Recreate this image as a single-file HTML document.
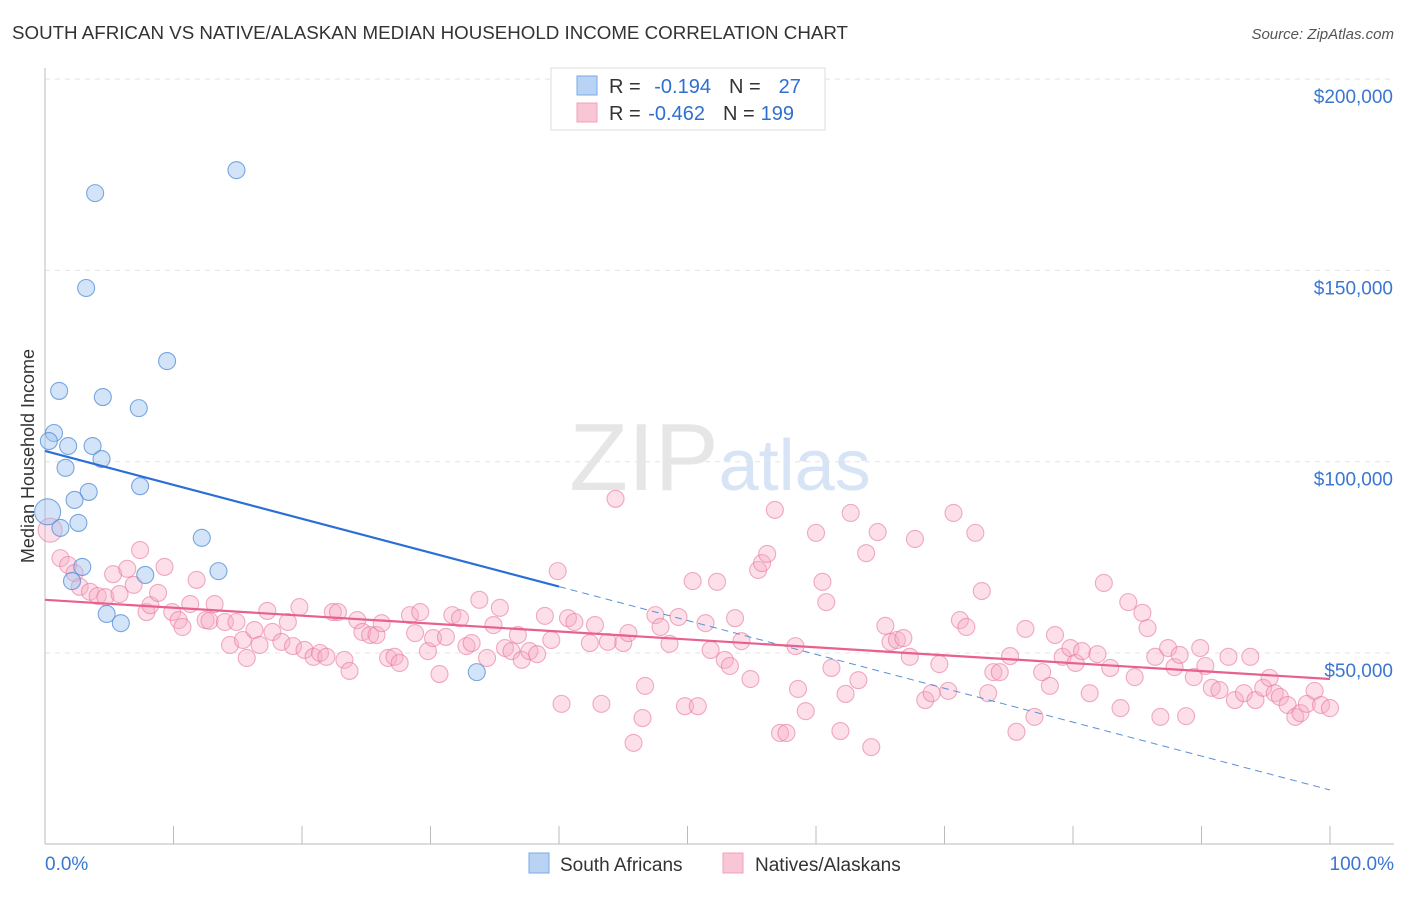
<!DOCTYPE html>
<html><head><meta charset="utf-8"><style>
body{margin:0;background:#fff;font-family:"Liberation Sans",sans-serif;}
svg text{font-family:"Liberation Sans",sans-serif;}
</style></head><body>
<svg id="chart" width="1406" height="892" xmlns="http://www.w3.org/2000/svg">
<text x="12" y="39" font-size="18" fill="#333" textLength="836" lengthAdjust="spacingAndGlyphs">SOUTH AFRICAN VS NATIVE/ALASKAN MEDIAN HOUSEHOLD INCOME CORRELATION CHART</text>
<text x="1394" y="39" font-size="15" fill="#555" text-anchor="end" font-style="italic">Source: ZipAtlas.com</text>
<text x="720" y="490" font-size="96" text-anchor="middle" fill="#e6e6e6" font-family="Liberation Serif"><tspan>ZIP</tspan><tspan fill="#d6e4f5" font-family="Liberation Sans" font-size="72">atlas</tspan></text>
<g id="grid"></g>
<g id="axes"></g>
<g id="pink"></g>
<g id="blue"></g>
<g id="trends"></g>
<text transform="translate(34,456) rotate(-90)" font-size="18" fill="#333" text-anchor="middle">Median Household Income</text>
<g>
<rect x="551" y="68" width="274" height="62" fill="#fff" stroke="#ddd"/>
<rect x="577" y="76" width="20" height="19" fill="#b9d3f5" stroke="#7aa8e6"/>
<rect x="577" y="103" width="20" height="19" fill="#f9c6d6" stroke="#f0a0bc"/>
<text x="609" y="93" font-size="20" fill="#333">R = <tspan fill="#2f6fd1" dx="8">-0.194</tspan><tspan fill="#333" dx="18">N =</tspan><tspan fill="#2f6fd1" dx="18">27</tspan></text>
<text x="609" y="120" font-size="20" fill="#333">R = <tspan fill="#2f6fd1" dx="2">-0.462</tspan><tspan fill="#333" dx="18">N =</tspan><tspan fill="#2f6fd1" dx="6">199</tspan></text>
</g>
<g>
<rect x="529" y="853" width="20" height="20" fill="#b9d3f5" stroke="#7aa8e6"/>
<text x="560" y="871" font-size="19" fill="#333">South Africans</text>
<rect x="723" y="853" width="20" height="20" fill="#f9c6d6" stroke="#f0a0bc"/>
<text x="755" y="871" font-size="19" fill="#333">Natives/Alaskans</text>
</g>
</svg>
<script>
const yTicks=[50000,100000,150000,200000];
const yTickLabels=["$50,000","$100,000","$150,000","$200,000"];
const xTickLabels=["0.0%","100.0%"];
const blueX=[14.9,3.9,3.2,9.5,1.1,4.5,7.3,0.7,0.3,1.8,3.7,4.4,1.6,7.4,3.4,2.3,0.2,2.6,1.2,12.2,2.9,13.5,7.8,2.1,4.8,5.9,33.6];
const blueY=[176.2,170.2,145.4,126.3,118.5,116.9,114,107.5,105.4,104.1,104.1,100.7,98.4,93.6,92.1,90,86.9,84,82.7,80.1,72.5,71.4,70.4,68.8,60.2,57.8,45];
const pinkX=[0.4,1.2,1.8,2.3,2.7,3.5,4.1,4.7,5.3,5.8,6.4,6.9,7.4,7.9,8.2,8.8,9.3,9.9,10.4,10.7,11.3,11.8,12.5,12.8,13.2,14,14.4,14.9,15.4,15.7,16.3,16.7,17.3,17.7,18.4,18.9,19.3,19.8,20.2,20.9,21.4,21.9,22.4,22.8,23.3,23.7,24.3,24.7,25.3,25.8,26.2,26.7,27.2,27.6,28.4,28.8,29.2,29.8,30.2,30.7,31.2,31.7,32.3,32.8,33.2,33.8,34.4,34.9,35.4,35.8,36.3,36.8,37.1,37.7,38.3,38.9,39.4,39.9,40.2,40.7,41.2,42.4,42.8,43.3,43.8,44.4,45,45.4,45.8,46.5,46.7,47.5,47.9,48.6,49.3,49.8,50.4,50.8,51.4,51.8,52.3,52.9,53.3,53.7,54.2,54.9,55.5,55.8,56.2,56.8,57.2,57.7,58.4,58.6,59.2,60,60.5,60.8,61.2,61.9,62.3,62.7,63.3,63.9,64.3,64.8,65.4,65.8,66.3,66.8,67.3,67.7,68.5,69,69.6,70.3,70.7,71.2,71.7,72.4,72.9,73.4,73.8,74.3,75.1,75.6,76.3,77,77.6,78.2,78.6,79.2,79.8,80.2,80.7,81.3,81.9,82.4,82.9,83.7,84.3,84.8,85.4,85.8,86.4,86.8,87.4,87.9,88.3,88.8,89.4,89.9,90.3,90.8,91.4,92.1,92.6,93.3,93.8,94.2,94.8,95.3,95.7,96.1,96.7,97.3,97.7,98.2,98.8,99.3,100];
const pinkY=[82.1,74.8,73,70.9,67.3,66,64.9,64.6,70.6,65.4,72,67.8,76.9,60.7,62.5,65.7,72.5,60.7,58.6,56.8,62.8,69.1,58.6,58.4,62.8,58.1,52.1,58.1,53.4,48.7,56,52.1,61,55.5,52.9,58.1,51.8,62,50.8,49,50,49,60.7,60.7,48.2,45.3,58.6,55.5,54.7,54.7,57.8,48.7,49,47.4,59.9,55.2,60.7,50.5,53.9,44.5,54.2,59.9,59.1,51.8,52.6,63.9,48.7,57.3,61.8,51.3,50.5,54.7,48.2,50.5,49.7,59.7,53.4,71.4,36.7,59.1,58.1,52.6,57.3,36.7,52.9,90.3,52.6,55.2,26.5,33,41.4,59.9,56.8,52.4,59.4,36.1,68.8,36.1,57.8,50.8,68.6,48.2,46.6,59.1,53.1,43.2,71.7,73.5,75.9,87.4,29.1,29.1,51.8,40.6,34.8,81.4,68.6,63.3,46.1,29.6,39.3,86.6,42.9,76.1,25.4,81.6,57.1,52.9,53.4,53.9,49,79.8,37.7,39.5,47.1,40.1,86.6,58.6,56.8,81.4,66.2,39.5,45,45,49.2,29.4,56.3,33.3,45,41.4,54.7,49,51.3,47.4,50.5,39.5,49.7,68.3,46.1,35.6,63.3,43.7,60.5,56.5,49,33.3,51.3,46.3,49.5,33.5,43.7,51.3,46.6,40.9,40.3,49,37.7,39.5,49,37.7,40.9,43.5,39.5,38.5,36.4,33.3,34.3,36.7,40.1,36.4,35.6];
const blueTrend=[102.8,14.2];
const blueSolidEnd=40;
const pinkTrend=[63.9,43.2];
const NS="http://www.w3.org/2000/svg";
const X=p=>45+p*12.85;
const Y=v=>653-(v-50)*3.826;
function mk(tag,parent,attrs){const e=document.createElementNS(NS,tag);for(const k in attrs)e.setAttribute(k,attrs[k]);document.getElementById(parent).appendChild(e);return e;}
yTicks.forEach((t,i)=>{
 const l=mk('line','grid',{x1:45,x2:1394,y1:Y(t/1000),y2:Y(t/1000),stroke:'#e4e4e4','stroke-dasharray':'5,5'});
 
 
 const tx=mk('text','grid',{x:1393,y:Y(t/1000)+24,'font-size':19,fill:'#3a76d0','text-anchor':'end'});
 tx.textContent=yTickLabels[i];
 
 
});
const ax=mk('line','axes',{x1:45,x2:45,y1:68,y2:844,stroke:'#bbb'});


const bx=mk('line','axes',{x1:45,x2:1394,y1:844,y2:844,stroke:'#bbb'});


for(let i=0;i<=10;i++){const t=mk('line','axes',{x1:X(i*10),x2:X(i*10),y1:826,y2:844,stroke:'#bbb'});
 
 }
xTickLabels.forEach((s,i)=>{const t=mk('text','axes',{x:i?1394:45,y:870,'font-size':19,fill:'#3a76d0','text-anchor':i?'end':'start'});t.textContent=s;
 
 });
pinkX.forEach((x,i)=>{const c=mk('circle','pink',{cx:X(x),cy:Y(pinkY[i]),r:i==0?12:8.5,fill:'rgba(246,170,196,0.38)',stroke:'rgba(232,120,155,0.6)','stroke-width':1.1});
 
 });
blueX.forEach((x,i)=>{const c=mk('circle','blue',{cx:X(x),cy:Y(blueY[i]),r:blueY[i]==86.9?13:8.5,fill:'rgba(160,195,240,0.45)',stroke:'rgba(80,140,215,0.75)','stroke-width':1.1});
 
 });
const bAt=p=>blueTrend[0]+(blueTrend[1]-blueTrend[0])*p/100;
const b1=mk('line','trends',{x1:X(0),y1:Y(bAt(0)),x2:X(blueSolidEnd),y2:Y(bAt(blueSolidEnd)),stroke:'#2b6fd6','stroke-width':2.2});


const b2=mk('line','trends',{x1:X(blueSolidEnd),y1:Y(bAt(blueSolidEnd)),x2:X(100),y2:Y(bAt(100)),stroke:'#5a8fd8','stroke-width':1,'stroke-dasharray':'7,5'});


const p1=mk('line','trends',{x1:X(0),y1:Y(pinkTrend[0]),x2:X(100),y2:Y(pinkTrend[1]),stroke:'#e8608c','stroke-width':2.2});


</script>
</body></html>
